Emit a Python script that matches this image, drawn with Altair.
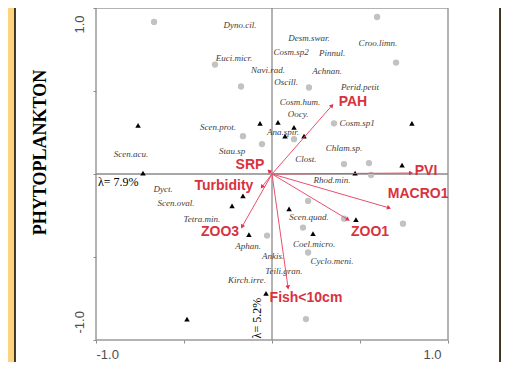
import math
import altair as alt
import pandas as pd

# ---- species labels (italic names) ----
species_names = ["Dyno.cil.", "Desm.swar.", "Cosm.sp2", "Pinnul.", "Croo.limn.", "Euci.micr.",
                 "Navi.rad.", "Achnan.", "Oscill.", "Perid.petit", "Cosm.hum.", "Oocy.",
                 "Cosm.sp1", "Scen.prot.", "Ana.spir.", "Stau.sp", "Chlam.sp.", "Clost.",
                 "Scen.acu.", "Rhod.min.", "Dyct.", "Scen.oval.", "Tetra.min.", "Scen.quad.",
                 "Coel.micro.", "Aphan.", "Ankis.", "Cyclo.meni.", "Teili.gran.", "Kirch.irre."]
species_x = [-0.182, 0.210, 0.108, 0.341, 0.602, -0.216,
             -0.023, 0.313, 0.080, 0.500, 0.159, 0.148,
             0.483, -0.307, 0.063, -0.227, 0.409, 0.193,
             -0.801, 0.341, -0.619, -0.545, -0.398, 0.210,
             0.239, -0.136, 0.006, 0.341, 0.068, -0.142]
species_y = [0.898, 0.820, 0.737, 0.731, 0.790, 0.701,
             0.629, 0.623, 0.557, 0.527, 0.431, 0.359,
             0.305, 0.281, 0.251, 0.138, 0.156, 0.090,
             0.120, -0.036, -0.090, -0.174, -0.269, -0.257,
             -0.419, -0.431, -0.491, -0.527, -0.587, -0.641]

# ---- grey circles ----
circle_x = [-0.670, -0.324, -0.176, 0.210, 0.597, 0.705, 0.352, -0.165, -0.057, 0.125,
            0.409, 0.551, 0.563, 0.205, 0.409, 0.176, 0.744, -0.028, 0.205, 0.193]
circle_y = [0.916, 0.659, 0.527, 0.521, 0.946, 0.671, 0.305, 0.228, 0.180, 0.210,
            0.060, 0.066, -0.006, -0.162, -0.269, -0.323, -0.299, -0.371, -0.473, -0.874]

# ---- black triangles (samples) ----
tri_x = [-0.761, -0.733, -0.068, 0.034, 0.125, 0.074, 0.182, 0.795, 0.739, 0.472,
         -0.165, -0.227, 0.097, -0.131, 0.233, 0.477, -0.034, -0.483]
tri_y = [0.293, 0.006, 0.305, 0.311, 0.281, 0.228, 0.228, 0.305, 0.054, 0.006,
         -0.132, -0.192, -0.210, -0.365, -0.359, -0.275, -0.719, -0.874]

# ---- environmental arrows ----
env_names = ["PAH", "SRP", "Turbidity", "ZOO3", "Fish<10cm", "ZOO1", "MACRO1", "PVI"]
env_x = [0.341, -0.017, -0.057, -0.170, 0.091, 0.432, 0.665, 0.790]
env_y = [0.413, 0.018, -0.078, -0.317, -0.683, -0.275, -0.204, 0.006]
env_label_x = [0.460, -0.125, -0.273, -0.295, 0.193, 0.557, 0.830, 0.875]
env_label_y = [0.431, 0.054, -0.072, -0.347, -0.749, -0.347, -0.120, 0.018]

# ---- axis eigenvalue notes ----
note_h = ["λ= 7.9%"]
note_h_x = [-0.989]
note_h_y = [-0.048]
note_v = ["λ= 5.2%"]
note_v_x = [-0.085]
note_v_y = [-0.868]

W, H = 352, 332

species_df = pd.DataFrame({"x": species_x, "y": species_y, "name": species_names})
circle_df = pd.DataFrame({"x": circle_x, "y": circle_y})
tri_df = pd.DataFrame({"x": tri_x, "y": tri_y})
arrow_df = pd.DataFrame({"x": [0.0] * len(env_x), "y": [0.0] * len(env_y),
                         "tx": env_x, "ty": env_y, "name": env_names})
angles = [(math.degrees(math.atan2(a * W / 2, b * H / 2)) + 360) % 360
          for a, b in zip(env_x, env_y)]
tip_df = pd.DataFrame({"x": env_x, "y": env_y, "angle": angles})
envlab_df = pd.DataFrame({"x": env_label_x, "y": env_label_y, "name": env_names})
noteh_df = pd.DataFrame({"x": note_h_x, "y": note_h_y, "t": note_h})
notev_df = pd.DataFrame({"x": note_v_x, "y": note_v_y, "t": note_v})

lab_expr = "datum.value == -1 ? '-1.0' : (datum.value == 1 ? '1.0' : '')"
ticks = [-1, -0.5, 0, 0.5, 1]

x_axis = alt.Axis(values=ticks, labelExpr=lab_expr, labelFlush=True,
                  labelOffset={"condition": {"test": "datum.value > 0", "value": -7}, "value": 0},
                  grid=False, domain=False, tickSize=3, tickColor="#8c8c8c",
                  labelFont="Liberation Sans", labelFontSize=13, labelColor="#4d4d4d",
                  labelPadding=5, title=None, zindex=2)
y_axis = alt.Axis(values=ticks, labelExpr=lab_expr, labelAngle=270,
                  labelAlign={"condition": {"test": "datum.value > 0", "value": "right"}, "value": "left"},
                  labelBaseline="bottom",
                  labelOffset={"condition": {"test": "datum.value > 0", "value": 7}, "value": -7},
                  grid=False, domain=False, tickSize=3, tickColor="#8c8c8c",
                  labelFont="Liberation Sans", labelFontSize=13, labelColor="#4d4d4d",
                  labelPadding=7,
                  title="PHYTOPLANKTON", titleFont="Liberation Serif", titleFontSize=18,
                  titleFontWeight="bold", titleColor="black", titleAngle=270,
                  titleX=-56, titleY=144, titleAlign="center", titleBaseline="middle",
                  zindex=2)

xs = alt.Scale(domain=[-1, 1], nice=False, zero=False)
ys = alt.Scale(domain=[-1, 1], nice=False, zero=False)


def X():
    return alt.X("x:Q", scale=xs, axis=x_axis)


def Y():
    return alt.Y("y:Q", scale=ys, axis=y_axis)


one = pd.DataFrame({"a": [0]})

panel = alt.Chart(one).mark_rect(
    fill="white", stroke="black", strokeWidth=1.5
).encode(x=alt.value(-81), x2=alt.value(404), y=alt.value(-20), y2=alt.value(420))

frame = alt.Chart(one).mark_rect(
    fillOpacity=0, stroke="#9b9b9b", strokeWidth=1.5
).encode(x=alt.value(0), x2=alt.value(W), y=alt.value(0), y2=alt.value(H))

hline = alt.Chart(one).mark_rule(color="#8a8a8a", strokeWidth=1.3).encode(
    y=alt.Y(datum=0, scale=ys, axis=y_axis))
vline = alt.Chart(one).mark_rule(color="#8a8a8a", strokeWidth=1.3).encode(
    x=alt.X(datum=0, scale=xs, axis=x_axis))

circles = alt.Chart(circle_df).mark_point(shape="circle", filled=True, size=40,
                                          color="#c2c2c2", opacity=1).encode(x=X(), y=Y())
tris = alt.Chart(tri_df).mark_point(shape="triangle-up", filled=True, size=30,
                                    color="black", opacity=1).encode(x=X(), y=Y())
species = alt.Chart(species_df).mark_text(font="Liberation Serif", fontStyle="italic",
                                          fontSize=9, color="#404040").encode(
    x=X(), y=Y(), text="name:N")
arrows = alt.Chart(arrow_df).mark_rule(color="#e8506e", strokeWidth=1).encode(
    x=X(), y=Y(), x2="tx:Q", y2="ty:Q")
heads = alt.Chart(tip_df).mark_point(shape="triangle-up", filled=True, size=22,
                                     color="#e0304e", opacity=1).encode(
    x=X(), y=Y(), angle=alt.Angle("angle:Q", scale=None))
envlab = alt.Chart(envlab_df).mark_text(font="Liberation Sans", fontWeight="bold",
                                        fontSize=14, color="#d8323e").encode(
    x=X(), y=Y(), text="name:N")
noteh = alt.Chart(noteh_df).mark_text(font="Liberation Serif", fontSize=12, color="black",
                                      align="left", baseline="middle").encode(
    x=X(), y=Y(), text="t:N")
notev = alt.Chart(notev_df).mark_text(font="Liberation Serif", fontSize=12, color="black",
                                      angle=270, align="center", baseline="middle").encode(
    x=X(), y=Y(), text="t:N")

chart = alt.layer(panel, frame, hline, vline, circles, tris, species, arrows, heads, envlab,
                  noteh, notev).properties(
    width=W, height=H,
    padding={"left": 88, "top": 0, "right": 53, "bottom": 22},
    autosize=alt.AutoSizeParams(type="none"),
    background="#fdd37e",
).configure_view(stroke=None)

chart.save("out.html", embed_options={"renderer": "svg", "actions": False})
